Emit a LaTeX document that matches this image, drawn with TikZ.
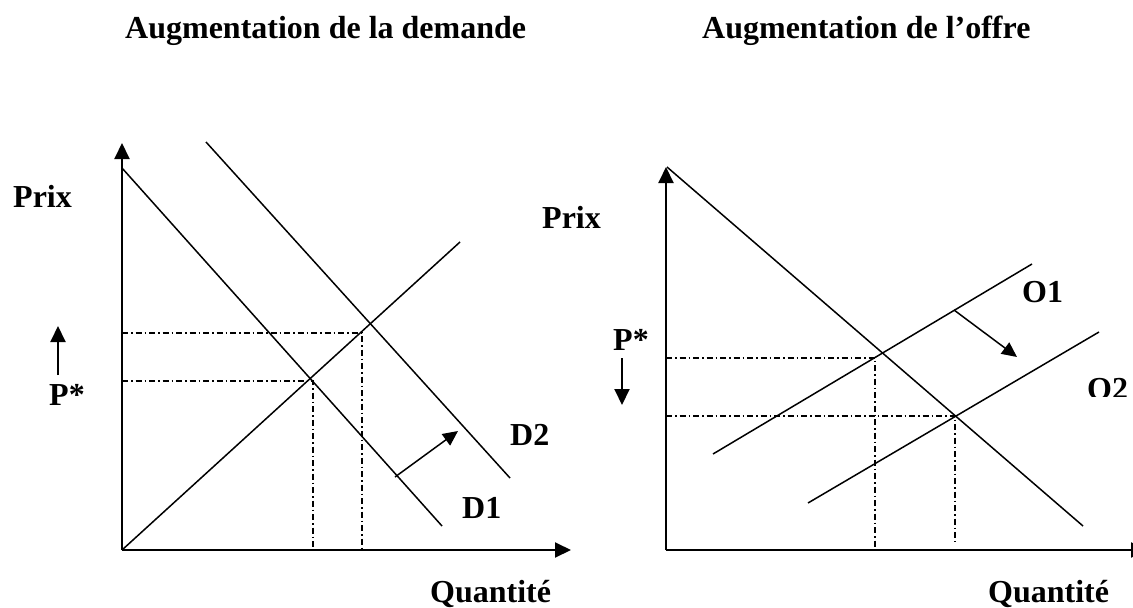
\documentclass[tikz,border=0pt]{standalone}
\usepackage{fontspec}
\setmainfont{Liberation Serif}
\usetikzlibrary{arrows.meta}
\begin{document}
\begin{tikzpicture}[x=1pt,y=-1pt,
 axis/.style={line width=2pt,-{Triangle[length=16pt,width=15pt]}},
 curve/.style={line width=1.5pt},
 guide/.style={line width=1.3pt,dash pattern=on 6pt off 3pt on 1.5pt off 3pt},
 shiftarrow/.style={line width=1.5pt,-{Triangle[length=15pt,width=14pt]}},
 lbl/.style={font=\fontsize{32}{36}\selectfont\bfseries,inner sep=0pt,anchor=base west}]
\useasboundingbox (0,0) rectangle (1133,608);

% ---------- titles ----------
\node[lbl] (t1) at (125,38) {Augmentation de la demande};
\node[lbl] (t2) at (702,38) {Augmentation de l’offre};

% ---------- left chart ----------
\coordinate (LO) at (122,550);
\coordinate (LY) at (122,143);
\coordinate (LX) at (571,550);
\draw[axis] (LO) -- (LY);
\draw[axis] (LO) -- (LX);

\coordinate (D1a) at (122,168);
\coordinate (D1b) at (442,526);
\coordinate (D2a) at (206,142);
\coordinate (D2b) at (510,478);
\coordinate (Sb) at (460,242);
\draw[curve] (D1a) -- (D1b);
\draw[curve] (D2a) -- (D2b);
\draw[curve] (LO) -- (Sb);

\coordinate (E1) at (313,381);
\coordinate (E2) at (362,333);
\draw[guide] (122,333) -- (E2) -- (362,550);
\draw[guide] (122,381) -- (E1) -- (313,550);

\coordinate (ShA) at (395,477);
\coordinate (ShB) at (458,431);
\draw[shiftarrow] (ShA) -- (ShB);

\coordinate (UpA) at (58,375);
\coordinate (UpB) at (58,326);
\draw[axis] (UpA) -- (UpB);

\node[lbl] (prixL) at (13,207) {Prix};
\node[lbl] (pL) at (49,405) {P*};
\node[lbl] (d2) at (510,445) {D2};
\node[lbl] (d1) at (462,518) {D1};
\node[lbl] (qL) at (430,602) {Quantité};

% ---------- right chart ----------
\coordinate (RO) at (666,550);
\coordinate (RY) at (666,167);
\coordinate (RX) at (1147,550);
\draw[axis] (RO) -- (RY);
\draw[axis] (RO) -- (RX);

\coordinate (Da) at (667,167);
\coordinate (Db) at (1083,526);
\coordinate (O1a) at (713,454);
\coordinate (O1b) at (1032,264);
\coordinate (O2a) at (808,503);
\coordinate (O2b) at (1099,332);
\draw[curve] (Da) -- (Db);
\draw[curve] (O1a) -- (O1b);
\draw[curve] (O2a) -- (O2b);

\coordinate (F1) at (875,358);
\coordinate (F2) at (955,416);
\draw[guide] (666,358) -- (F1) -- (875,550);
\draw[guide] (666,416) -- (F2) -- (955,542);

\coordinate (ShC) at (954,310);
\coordinate (ShD) at (1017,357);
\draw[shiftarrow] (ShC) -- (ShD);

\coordinate (DnA) at (622,358);
\coordinate (DnB) at (622,405);
\draw[axis] (DnA) -- (DnB);

\node[lbl] (prixR) at (542,228) {Prix};
\node[lbl] (pR) at (613,350) {P*};
\node[lbl] (o1) at (1022,302) {O1};
\begin{scope}
\clip (1075,360) rectangle (1133,396);
\node[lbl] (o2) at (1087,399) {O2};
\end{scope}
\node[lbl] (qR) at (988,602) {Quantité};
\end{tikzpicture}
\end{document}
